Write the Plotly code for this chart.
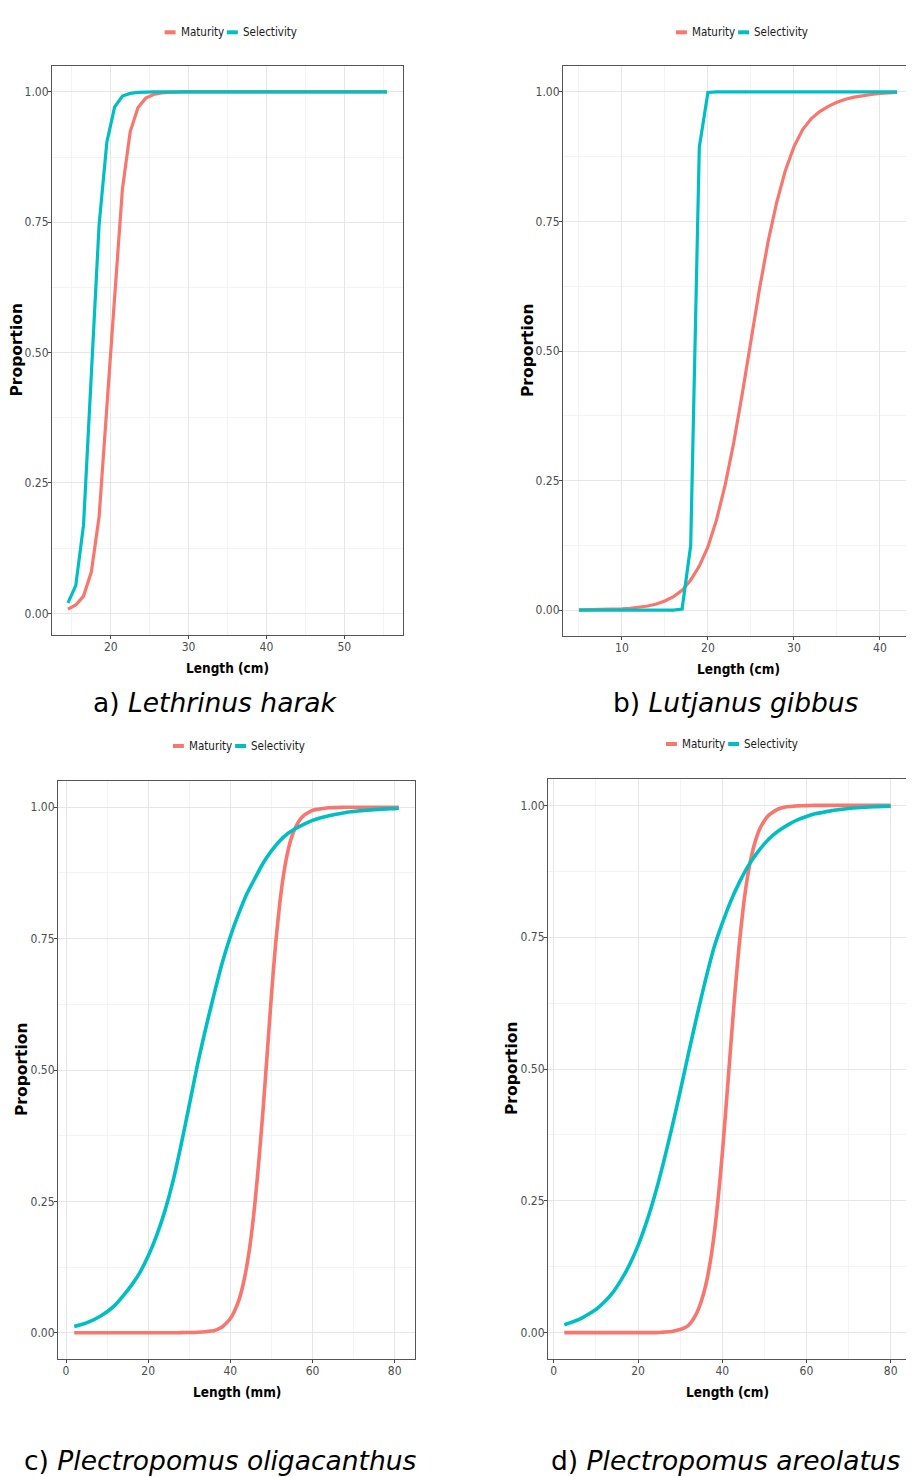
import plotly.graph_objects as go

# ---------------- data ----------------
# Panel a) Lethrinus harak (length, cm)
a_len = [14.5, 15.5, 16.5, 17.5, 18.5, 19.5, 20.5, 21.5, 22.5, 23.5, 24.5, 25.5, 26.5, 27.5,
         28.5, 29.5, 30.5, 31.5, 32.5, 33.5, 34.5, 35.5, 36.5, 37.5, 38.5, 39.5, 40.5, 41.5,
         42.5, 43.5, 44.5, 45.5, 46.5, 47.5, 48.5, 49.5, 50.5, 51.5, 52.5, 53.5, 54.5, 55.5]
a_mat = [0.008, 0.016, 0.033, 0.079, 0.185, 0.405, 0.607, 0.814, 0.924, 0.970, 0.988, 0.995, 0.998, 0.999,
         1.0, 1.0, 1.0, 1.0, 1.0, 1.0, 1.0, 1.0, 1.0, 1.0, 1.0, 1.0, 1.0, 1.0,
         1.0, 1.0, 1.0, 1.0, 1.0, 1.0, 1.0, 1.0, 1.0, 1.0, 1.0, 1.0, 1.0, 1.0]
a_sel = [0.020, 0.053, 0.169, 0.450, 0.745, 0.904, 0.971, 0.992, 0.997, 0.999, 1.0, 1.0, 1.0, 1.0,
         1.0, 1.0, 1.0, 1.0, 1.0, 1.0, 1.0, 1.0, 1.0, 1.0, 1.0, 1.0, 1.0, 1.0,
         1.0, 1.0, 1.0, 1.0, 1.0, 1.0, 1.0, 1.0, 1.0, 1.0, 1.0, 1.0, 1.0, 1.0]

# Panel b) Lutjanus gibbus (length, cm)
b_len = [5, 6, 7, 8, 9, 10, 11, 12, 13, 14, 15, 16, 17, 18, 19, 20, 21, 22, 23,
         24, 25, 26, 27, 28, 29, 30, 31, 32, 33, 34, 35, 36, 37, 38, 39, 40, 41, 42]
b_mat = [0.0003, 0.0004, 0.0007, 0.001, 0.0015, 0.0023, 0.0035, 0.0052, 0.0079, 0.0118, 0.0177, 0.026,
         0.038, 0.058, 0.085, 0.122, 0.174, 0.241, 0.323, 0.418, 0.52, 0.62, 0.711, 0.787, 0.848,
         0.894, 0.927, 0.948, 0.962, 0.972, 0.980, 0.986, 0.990, 0.993, 0.995, 0.997, 0.998, 0.999]
b_sel = [0.0, 0.0, 0.0, 0.0, 0.0, 0.0, 0.0, 0.0, 0.0, 0.0, 0.0, 0.0, 0.002, 0.125, 0.893, 0.999,
         1.0, 1.0, 1.0, 1.0, 1.0, 1.0, 1.0, 1.0, 1.0, 1.0, 1.0, 1.0, 1.0, 1.0, 1.0, 1.0, 1.0,
         1.0, 1.0, 1.0, 1.0, 1.0]

# Panel c) Plectropomus oligacanthus (length, mm)
c_mat_len = [2, 4, 6, 8, 10, 12, 14, 16, 18, 20, 22, 24, 26, 28, 30, 32, 34,
             35, 36, 37, 38, 39, 40, 41, 42, 43, 44, 45, 46, 47, 48, 49, 50, 51, 52, 53, 54, 55,
             56, 57, 58, 59, 60, 61, 62, 64, 66, 68, 70, 72, 74, 76, 78, 80, 81]
c_mat = [0.0, 0.0, 0.0, 0.0, 0.0, 0.0, 0.0, 0.0, 0.0, 0.0, 0.0, 0.0, 0.0, 0.0002, 0.0005, 0.001, 0.002,
         0.003, 0.004, 0.007, 0.011, 0.018, 0.027, 0.041, 0.060, 0.088, 0.127, 0.179, 0.248, 0.332,
         0.428, 0.534, 0.642, 0.738, 0.815, 0.874, 0.916, 0.945, 0.964, 0.977, 0.985, 0.990, 0.994,
         0.996, 0.997, 0.999, 0.9995, 1.0, 1.0, 1.0, 1.0, 1.0, 1.0, 1.0, 1.0]
c_sel_len = [2, 4, 6, 8, 10, 12, 14, 16, 18, 20, 22, 24, 26, 28, 30, 32, 34, 36, 38, 40,
             42, 44, 46, 48, 50, 52, 54, 56, 58, 60, 62, 64, 66, 68, 70, 72, 74, 76, 78, 80, 81]
c_sel = [0.012, 0.016, 0.022, 0.030, 0.040, 0.053, 0.071, 0.091, 0.115, 0.146,
         0.184, 0.230, 0.287, 0.357, 0.433, 0.510, 0.579, 0.643, 0.703, 0.754,
         0.797, 0.835, 0.865, 0.894, 0.917, 0.936, 0.950, 0.960, 0.968, 0.975,
         0.980, 0.984, 0.987, 0.990, 0.992, 0.9936, 0.995, 0.996, 0.997, 0.9975, 0.998]

# Panel d) Plectropomus areolatus (length, cm)
d_mat_len = [2.5, 4, 6, 8, 10, 12, 14, 16, 18, 20, 22, 24, 26, 28,
             29, 30, 31, 32, 33, 34, 35, 36, 37, 38, 39, 40, 41, 42, 43, 44, 45, 46, 47, 48,
             49, 50, 51, 52, 53, 54, 55, 56, 57, 58, 60, 62, 64, 66, 68, 70, 72, 74, 76, 78, 80]
d_mat = [0.0, 0.0, 0.0, 0.0, 0.0, 0.0, 0.0, 0.0, 0.0, 0.0, 0.0, 0.0, 0.001, 0.002,
         0.004, 0.006, 0.009, 0.014, 0.024, 0.038, 0.059, 0.087, 0.127, 0.181, 0.252, 0.338,
         0.438, 0.542, 0.643, 0.733, 0.807, 0.864, 0.906, 0.936, 0.957, 0.971, 0.981, 0.987,
         0.992, 0.995, 0.997, 0.998, 0.9985, 0.999, 0.9995, 1.0, 1.0, 1.0, 1.0, 1.0, 1.0, 1.0,
         1.0, 1.0, 1.0]
d_sel_len = [2.5, 4, 6, 8, 10, 12, 14, 16, 18, 20, 22, 24, 26, 28, 30, 32, 34, 36, 38, 40,
             42, 44, 46, 48, 50, 52, 54, 56, 58, 60, 62, 64, 66, 68, 70, 72, 74, 76, 78, 80]
d_sel = [0.015, 0.019, 0.025, 0.034, 0.044, 0.058, 0.076, 0.100, 0.129, 0.165,
         0.209, 0.261, 0.321, 0.387, 0.457, 0.530, 0.601, 0.668, 0.729, 0.776,
         0.818, 0.853, 0.883, 0.907, 0.927, 0.943, 0.955, 0.965, 0.973, 0.979,
         0.984, 0.987, 0.990, 0.992, 0.994, 0.9955, 0.9965, 0.9973, 0.998, 0.9984]

y_ticks = [0, 0.25, 0.5, 0.75, 1.0]
y_tick_labels = ["0.00", "0.25", "0.50", "0.75", "1.00"]

series_names = ["Maturity", "Selectivity"]
colors = {"Maturity": "#F8766D", "Selectivity": "#00BFC4"}

# ---------------- layout helpers ----------------
W, H = 914, 1477
OFF = 8  # page body margin of the browser


def fx(p):
    return (p - OFF) / W


def fy(p):
    return 1 - (p - OFF) / H


COND = "DejaVu Sans Condensed, Liberation Sans Narrow, Arial Narrow, sans-serif"
CAPTION_FONT = "DejaVu Sans, Verdana, sans-serif"

# approximate text widths (em) of legend labels in DejaVu Sans, for centring the legend
LABEL_EM = {"Maturity": 4.175, "Selectivity": 5.217}
LEG_SIZE = 11.5

panels = [
    dict(mat=(a_len, a_mat), sel=(a_len, a_sel), shape="linear", lw=3.2,
         xdom=(52, 403), ydom=(66, 635), xticks=[20, 30, 40, 50], xminor=5,
         xtitle="Length (cm)", ytitle_x=16, leg=(229.7, 32.3),
         caption="a) <i>Lethrinus harak</i>", cap=(215, 702)),
    dict(mat=(b_len, b_mat), sel=(b_len, b_sel), shape="linear", lw=3.2,
         xdom=(563, 913), ydom=(66, 636), xticks=[10, 20, 30, 40], xminor=5,
         xtitle="Length (cm)", ytitle_x=528, leg=(741, 32.3),
         caption="b) <i>Lutjanus gibbus</i>", cap=(736, 702)),
    dict(mat=(c_mat_len, c_mat), sel=(c_sel_len, c_sel), shape="spline", lw=3.6,
         xdom=(58, 415), ydom=(781, 1359), xticks=[0, 20, 40, 60, 80], xminor=10,
         xtitle="Length (mm)", ytitle_x=22, leg=(238, 746),
         caption="c) <i>Plectropomus oligacanthus</i>", cap=(220, 1460)),
    dict(mat=(d_mat_len, d_mat), sel=(d_sel_len, d_sel), shape="spline", lw=3.6,
         xdom=(548, 907), ydom=(779, 1359), xticks=[0, 20, 40, 60, 80], xminor=10,
         xtitle="Length (cm)", ytitle_x=512, leg=(731, 744),
         caption="d) <i>Plectropomus areolatus</i>", cap=(725.5, 1460)),
]

fig = go.Figure()
shapes = []
annotations = []
layout_axes = {}

for i, p in enumerate(panels, start=1):
    xs = "" if i == 1 else str(i)
    for name, key in (("Maturity", "mat"), ("Selectivity", "sel")):
        xv, yv = p[key]
        fig.add_trace(go.Scatter(
            x=xv, y=yv, mode="lines", name=name, showlegend=False,
            line=dict(color=colors[name], width=p["lw"], shape=p["shape"], smoothing=0.6),
            xaxis="x" + xs, yaxis="y" + xs, hoverinfo="x+y+name"))

    allx = list(p["mat"][0]) + list(p["sel"][0])
    ally = list(p["mat"][1]) + list(p["sel"][1])
    xmin, xmax = min(allx), max(allx)
    ymin, ymax = min(ally), max(ally)
    xr = [xmin - 0.05 * (xmax - xmin), xmax + 0.05 * (xmax - xmin)]
    yr = [ymin - 0.05 * (ymax - ymin), ymax + 0.05 * (ymax - ymin)]

    x0, x1 = p["xdom"]
    y0, y1 = p["ydom"]
    common = dict(showline=True, linecolor="#555555", linewidth=1, mirror=True,
                  ticks="outside", ticklen=3, tickcolor="#444444", tickwidth=1,
                  showgrid=True, gridcolor="#e6e6e6", gridwidth=1, zeroline=False,
                  tickfont=dict(family=COND, size=12, color="#4d4d4d"),
                  fixedrange=True)
    layout_axes["xaxis" + xs] = dict(
        common, domain=[fx(x0), fx(x1)], range=xr, anchor="y" + xs,
        tickvals=p["xticks"], ticktext=[str(t) for t in p["xticks"]],
        ticklabelstandoff=-2,
        minor=dict(dtick=p["xminor"], tick0=0, showgrid=True, gridcolor="#f3f3f3",
                   gridwidth=0.6, ticks=""))
    layout_axes["yaxis" + xs] = dict(
        common, domain=[fy(y1), fy(y0)], range=yr, anchor="x" + xs,
        tickvals=y_ticks, ticktext=y_tick_labels,
        ticklabelstandoff=-3,
        minor=dict(dtick=0.125, tick0=0, showgrid=True, gridcolor="#f3f3f3",
                   gridwidth=0.6, ticks=""))

    # axis titles
    annotations.append(dict(
        text="<b>" + p["xtitle"] + "</b>", x=fx((x0 + x1) / 2), y=fy(y1 + 33),
        xref="paper", yref="paper", showarrow=False, xanchor="center", yanchor="middle",
        font=dict(family=COND, size=13.5, color="#000000")))
    annotations.append(dict(
        text="<b>Proportion</b>", x=fx(p["ytitle_x"]), y=fy((y0 + y1) / 2),
        xref="paper", yref="paper", showarrow=False, xanchor="center", yanchor="middle",
        textangle=-90, font=dict(family="DejaVu Sans, sans-serif", size=15.5, color="#000000")))

    # legend (keys + labels), centred on the panel's legend position
    cx, cy = p["leg"]
    key_w, gap_k, gap_item = 11, 3, 5
    tw = [LABEL_EM[n] * LEG_SIZE * 0.9 for n in series_names]
    total = 2 * (key_w + gap_k) + tw[0] + tw[1] + gap_item
    xpos = cx - total / 2
    for name, w in zip(series_names, tw):
        shapes.append(dict(type="line", xref="paper", yref="paper",
                           x0=fx(xpos), x1=fx(xpos + key_w), y0=fy(cy), y1=fy(cy),
                           line=dict(color=colors[name], width=4)))
        annotations.append(dict(
            text=name, x=fx(xpos + key_w + gap_k), y=fy(cy), xref="paper", yref="paper",
            showarrow=False, xanchor="left", yanchor="middle",
            font=dict(family=COND, size=LEG_SIZE, color="#1a1a1a")))
        xpos += key_w + gap_k + w + gap_item

    # caption
    annotations.append(dict(
        text=p["caption"], x=fx(p["cap"][0]), y=fy(p["cap"][1]), xref="paper", yref="paper",
        showarrow=False, xanchor="center", yanchor="middle",
        font=dict(family=CAPTION_FONT, size=26.5, color="#000000")))

fig.update_layout(
    width=W, height=H, margin=dict(l=0, r=0, t=0, b=0),
    paper_bgcolor="white", plot_bgcolor="white",
    shapes=shapes, annotations=annotations, showlegend=False,
    **layout_axes)

fig.write_html("out.html")
